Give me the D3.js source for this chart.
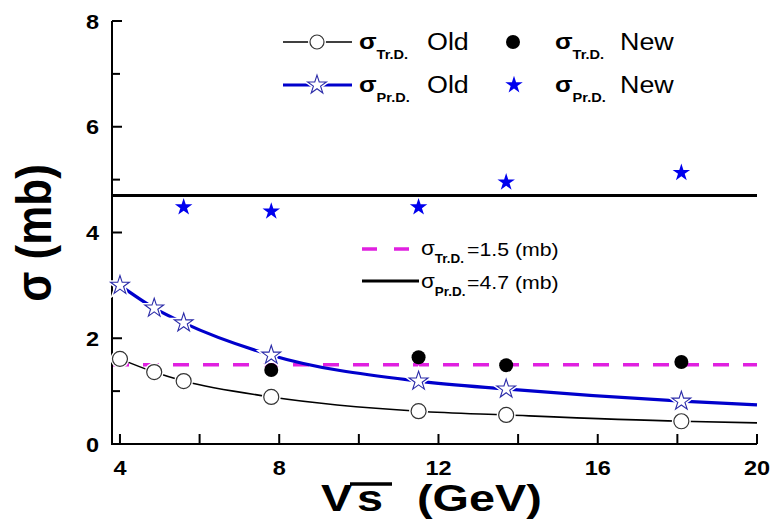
<!DOCTYPE html>
<html>
<head>
<meta charset="utf-8">
<script src="https://cdn.jsdelivr.net/npm/d3@7"></script>
<style>
  html, body { margin: 0; padding: 0; background: #fff; }
  svg { display: block; font-family: "Liberation Sans", Arial, sans-serif; }
</style>
</head>
<body>
<svg id="chart" width="773" height="526"></svg>
<script>
// Collision energies (GeV) of the older calculation
const energiesOld = [4.0, 4.86, 5.6, 7.8, 11.5, 13.7, 18.1];
// Old cross sections (mb)
const sigmaTrOld = [1.61, 1.36, 1.19, 0.89, 0.62, 0.55, 0.43];
const sigmaPrOld = [3.0, 2.57, 2.29, 1.68, 1.19, 1.04, 0.81];
// Fitted curves continue to the end of the energy range
const curveEndEnergy = 20;
const sigmaTrOldEnd = 0.40;
const sigmaPrOldEnd = 0.74;
// New cross sections (mb)
const energiesTrNew = [7.8, 11.5, 13.7, 18.1];
const sigmaTrNew = [1.40, 1.64, 1.49, 1.55];
const energiesPrNew = [5.6, 7.8, 11.5, 13.7, 18.1];
const sigmaPrNew = [4.48, 4.40, 4.48, 4.95, 5.13];
// Constant reference values (mb)
const sigmaTrConst = 1.5;
const sigmaPrConst = 4.7;
// Axis ticks
const xTickValues = [4, 6, 8, 10, 12, 14, 16, 18, 20];
const xTickLabels = [4, 8, 12, 16, 20];
const yTickValues = [0, 1, 2, 3, 4, 5, 6, 7, 8];
const yTickLabels = [0, 2, 4, 6, 8];

const SX = 1.12; // horizontal text stretch
const svg = d3.select("#chart");
const x = d3.scaleLinear().domain([3.8, 20]).range([112, 757]);
const y = d3.scaleLinear().domain([0, 8]).range([444, 21]);

const blue = "#0000cc";
const starBlue = "#0000ee";
const magenta = "#e020e0";

function stretchedText(g, px, py, anchor, sx) {
  return g.append("text")
    .attr("transform", `translate(${px},${py}) scale(${sx || SX},1)`)
    .attr("text-anchor", anchor || "start");
}

// Axes
const axisG = svg.append("g");
axisG.append("line").attr("x1", 112).attr("x2", 112).attr("y1", y(0)).attr("y2", y(8))
  .attr("stroke", "#000").attr("stroke-width", 2);
axisG.append("line").attr("x1", 111).attr("x2", x(20)).attr("y1", y(0)).attr("y2", y(0))
  .attr("stroke", "#000").attr("stroke-width", 2);

axisG.selectAll(".xt").data(xTickValues).join("line")
  .attr("x1", d => x(d)).attr("x2", d => x(d))
  .attr("y1", y(0)).attr("y2", y(0) - 10)
  .attr("stroke", "#000").attr("stroke-width", 2);
axisG.selectAll(".yt").data(yTickValues).join("line")
  .attr("x1", 112).attr("x2", d => 112 + (d % 2 === 0 ? 10 : 8))
  .attr("y1", d => y(d)).attr("y2", d => y(d))
  .attr("stroke", "#000").attr("stroke-width", 2);

xTickLabels.forEach(v => {
  stretchedText(axisG, x(v), 475, "middle")
    .attr("font-size", 21).attr("font-weight", "bold").text(v);
});
yTickLabels.forEach(v => {
  stretchedText(axisG, 99, y(v) + 7.5, "end")
    .attr("font-size", 21).attr("font-weight", "bold").text(v);
});

// Axis titles
svg.append("text")
  .attr("transform", `translate(51,233) scale(${SX},1) rotate(-90)`)
  .attr("text-anchor", "middle")
  .attr("font-size", 44).attr("font-weight", "bold")
  .text("σ (mb)");

stretchedText(svg, 321, 511, "start", 1.3).attr("font-size", 36).attr("font-weight", "bold").text("V");
stretchedText(svg, 357, 511, "start", 1.3).attr("font-size", 36).attr("font-weight", "bold").text("s");
stretchedText(svg, 417, 511, "start", 1.3).attr("font-size", 36).attr("font-weight", "bold").text("(GeV)");
svg.append("line").attr("x1", 350).attr("x2", 392).attr("y1", 484).attr("y2", 484)
  .attr("stroke", "#000").attr("stroke-width", 3.5);

// Constant reference lines
svg.append("line").attr("x1", 112).attr("x2", x(20))
  .attr("y1", y(sigmaPrConst)).attr("y2", y(sigmaPrConst))
  .attr("stroke", "#000").attr("stroke-width", 3);
svg.append("line").attr("x1", 113).attr("x2", x(20))
  .attr("y1", y(sigmaTrConst)).attr("y2", y(sigmaTrConst))
  .attr("stroke", magenta).attr("stroke-width", 3.5).attr("stroke-dasharray", "16,14");

// Old curves
const line = d3.line().x(d => x(d[0])).y(d => y(d[1])).curve(d3.curveMonotoneX);
const trCurve = energiesOld.map((e, i) => [e, sigmaTrOld[i]]).concat([[curveEndEnergy, sigmaTrOldEnd]]);
const prCurve = energiesOld.map((e, i) => [e, sigmaPrOld[i]]).concat([[curveEndEnergy, sigmaPrOldEnd]]);
svg.append("path").attr("d", line(trCurve)).attr("fill", "none")
  .attr("stroke", "#000").attr("stroke-width", 1.6);
svg.append("path").attr("d", line(prCurve)).attr("fill", "none")
  .attr("stroke", blue).attr("stroke-width", 3.2);

const starPath = d3.symbol().type(d3.symbolStar).size(110)();
const starPathSmall = d3.symbol().type(d3.symbolStar).size(95)();

// Old markers with white halo so the curves break around them
const oldTr = energiesOld.map((e, i) => [e, sigmaTrOld[i]]);
const oldPr = energiesOld.map((e, i) => [e, sigmaPrOld[i]]);
svg.append("g").selectAll("circle").data(oldTr).join("circle")
  .attr("cx", d => x(d[0])).attr("cy", d => y(d[1])).attr("r", 7.5)
  .attr("fill", "#fff").attr("stroke", "#fff").attr("stroke-width", 4);
svg.append("g").selectAll("circle").data(oldTr).join("circle")
  .attr("cx", d => x(d[0])).attr("cy", d => y(d[1])).attr("r", 7.5)
  .attr("fill", "#fff").attr("stroke", "#333").attr("stroke-width", 1.2);
svg.append("g").selectAll("path").data(oldPr).join("path")
  .attr("transform", d => `translate(${x(d[0])},${y(d[1])})`)
  .attr("d", starPath).attr("fill", "#fff").attr("stroke", "#fff").attr("stroke-width", 4);
svg.append("g").selectAll("path").data(oldPr).join("path")
  .attr("transform", d => `translate(${x(d[0])},${y(d[1])})`)
  .attr("d", starPath).attr("fill", "#fff").attr("stroke", "#2a2aa8").attr("stroke-width", 1.1);

// New markers
svg.append("g").selectAll("circle").data(energiesTrNew.map((e, i) => [e, sigmaTrNew[i]])).join("circle")
  .attr("cx", d => x(d[0])).attr("cy", d => y(d[1])).attr("r", 7).attr("fill", "#000");
svg.append("g").selectAll("path").data(energiesPrNew.map((e, i) => [e, sigmaPrNew[i]])).join("path")
  .attr("transform", d => `translate(${x(d[0])},${y(d[1])})`)
  .attr("d", starPathSmall).attr("fill", starBlue);

// Legend helpers: sigma with a subscript, then the rest of the label at its own x
const leg = svg.append("g");
function sigmaLabel(g, px, py, sub, big, small, bold) {
  const t = stretchedText(g, px, py).attr("font-size", big);
  t.append("tspan").attr("font-weight", bold ? "bold" : "normal").text("σ");
  t.append("tspan").attr("font-size", small).attr("font-weight", "bold").attr("dy", big * 0.42).text(sub);
  return t;
}
function restLabel(g, px, py, txt, size) {
  return stretchedText(g, px, py).attr("font-size", size).text(txt);
}

// Legend: series
leg.append("line").attr("x1", 283).attr("x2", 352).attr("y1", 42).attr("y2", 42)
  .attr("stroke", "#000").attr("stroke-width", 1.6);
leg.append("circle").attr("cx", 317).attr("cy", 42).attr("r", 9).attr("fill", "#fff");
leg.append("circle").attr("cx", 317).attr("cy", 42).attr("r", 7)
  .attr("fill", "#fff").attr("stroke", "#333").attr("stroke-width", 1.2);
sigmaLabel(leg, 359, 49, "Tr.D.", 23, 13, true);
restLabel(leg, 427, 50, "Old", 24);
leg.append("circle").attr("cx", 513).attr("cy", 42).attr("r", 7).attr("fill", "#000");
sigmaLabel(leg, 555, 49, "Tr.D.", 23, 13, true);
restLabel(leg, 620, 50, "New", 24);

leg.append("line").attr("x1", 283).attr("x2", 352).attr("y1", 85).attr("y2", 85)
  .attr("stroke", blue).attr("stroke-width", 3.2);
leg.append("path").attr("transform", "translate(317,85)").attr("d", starPath)
  .attr("fill", "#fff").attr("stroke", "#fff").attr("stroke-width", 4);
leg.append("path").attr("transform", "translate(317,85)").attr("d", starPath)
  .attr("fill", "#fff").attr("stroke", "#2a2aa8").attr("stroke-width", 1.1);
sigmaLabel(leg, 359, 92, "Pr.D.", 23, 13, true);
restLabel(leg, 427, 93, "Old", 24);
leg.append("path").attr("transform", "translate(514,85)").attr("d", starPathSmall).attr("fill", starBlue);
sigmaLabel(leg, 555, 92, "Pr.D.", 23, 13, true);
restLabel(leg, 620, 93, "New", 24);

// Legend: constant values
leg.append("line").attr("x1", 362).attr("x2", 410).attr("y1", 249).attr("y2", 249)
  .attr("stroke", magenta).attr("stroke-width", 3.5).attr("stroke-dasharray", "15,17");
sigmaLabel(leg, 421, 255, "Tr.D.", 20, 12, false);
restLabel(leg, 467, 256, "=" + sigmaTrConst + " (mb)", 19);
leg.append("line").attr("x1", 362).attr("x2", 419).attr("y1", 281).attr("y2", 281)
  .attr("stroke", "#000").attr("stroke-width", 3);
sigmaLabel(leg, 421, 288, "Pr.D.", 20, 12, false);
restLabel(leg, 467, 289, "=" + sigmaPrConst + " (mb)", 19);
</script>
</body>
</html>
